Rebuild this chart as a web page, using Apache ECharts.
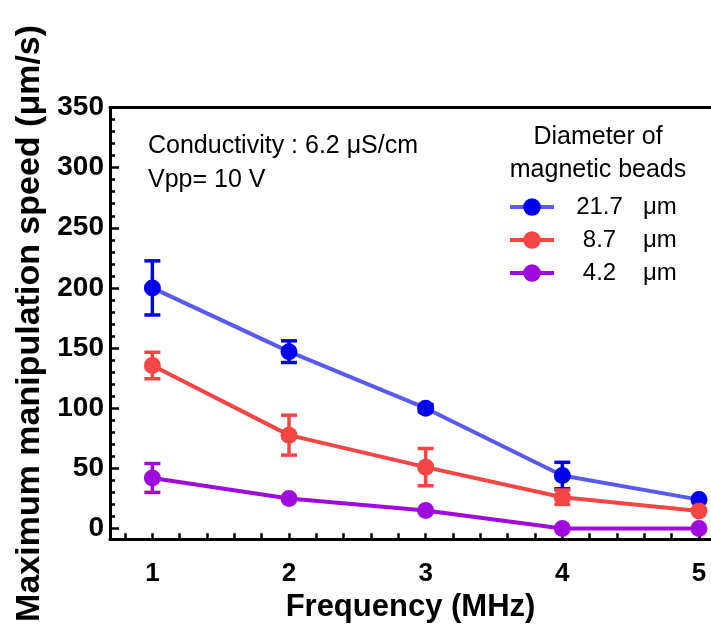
<!DOCTYPE html>
<html>
<head>
<meta charset="utf-8">
<script src="https://cdn.jsdelivr.net/npm/echarts@6/dist/echarts.min.js"></script>
<style>html,body{margin:0;padding:0;background:#fff}#c{width:711px;height:635px}</style>
</head>
<body>
<div id="c"></div>
<script>
// ---- data ----
const freqs = [1, 2, 3, 4, 5];
const seriesNames = ['21.7 μm', '8.7 μm', '4.2 μm'];
const legendNumbers = ['21.7', '8.7', '4.2'];
const speed217 = [200, 147, 100, 44, 24];
const err217 = [22.5, 9, 3, 11, 0];
const speed87 = [135.5, 77.6, 51, 26, 14.5];
const err87 = [11, 16.6, 15.5, 6, 0];
const speed42 = [42, 25, 15, 0, 0];
const err42 = [12, 0, 0, 0, 0];
const yMajorTicks = [0, 50, 100, 150, 200, 250, 300, 350];
const yMinorTicks = [0,10,20,30,40,50,60,70,80,90,100,110,120,130,140,150,160,170,180,190,200,210,220,230,240,250,260,270,280,290,300,310,320,330,340,350];
const xMajorTicks = [1, 2, 3, 4, 5];
const xMinorTicks = [0.8,1,1.2,1.4,1.6,1.8,2,2.2,2.4,2.6,2.8,3,3.2,3.4,3.6,3.8,4,4.2,4.4,4.6,4.8,5];
const annotationLines = ['Conductivity : 6.2 μS/cm', 'Vpp= 10 V'];
const legendTitle = 'Diameter of\nmagnetic beads';

// ---- styles ----
const FF = "'Liberation Sans', Arial, sans-serif";
const markerColors = ['#0000F0', '#F54545', '#A00ADC'];
const lineColors = ['#5A5AF2', '#F54545', '#A00ADC'];
const speeds = [speed217, speed87, speed42];
const errs = [err217, err87, err42];

const chart = echarts.init(document.getElementById('c'), null, {renderer: 'canvas'});

function errData(v, e) {
  return freqs.map((f, i) => [f, v[i] - e[i], v[i] + e[i]]).filter(d => d[2] > d[1]);
}
function errSeries(idx) {
  const col = markerColors[idx];
  return {
    type: 'custom',
    xAxisIndex: 0, yAxisIndex: 0,
    z: 3,
    data: errData(speeds[idx], errs[idx]),
    renderItem: function (params, api) {
      const x = api.value(0), lo = api.value(1), hi = api.value(2);
      const pt = api.coord([x, hi]), pb = api.coord([x, lo]);
      const hw = 8;
      const st = {stroke: col, lineWidth: 3.5};
      return {type: 'group', children: [
        {type: 'line', shape: {x1: pt[0], y1: pt[1], x2: pb[0], y2: pb[1]}, style: st},
        {type: 'line', shape: {x1: pt[0] - hw, y1: pt[1], x2: pt[0] + hw, y2: pt[1]}, style: st},
        {type: 'line', shape: {x1: pb[0] - hw, y1: pb[1], x2: pb[0] + hw, y2: pb[1]}, style: st}
      ]};
    }
  };
}
function lineSeries(idx) {
  return {
    type: 'line',
    name: seriesNames[idx],
    xAxisIndex: 0, yAxisIndex: 0,
    z: 4,
    data: freqs.map((f, i) => [f, speeds[idx][i]]),
    symbol: 'circle',
    symbolSize: 17,
    lineStyle: {color: lineColors[idx], width: 4},
    itemStyle: {color: markerColors[idx]},
    emphasis: {disabled: true}
  };
}

const xMin = 0.69, xMax = 5.088, yMin = -9, yMax = 350;

const option = {
  animation: false,
  grid: {left: 110, right: 0, top: 107.5, bottom: 95.7},
  xAxis: [{
    type: 'value', min: xMin, max: xMax, position: 'bottom',
    axisLine: {onZero: false, lineStyle: {color: '#000', width: 3}},
    axisTick: {inside: true, length: 6, lineStyle: {color: '#000', width: 2.5}, customValues: xMinorTicks},
    axisLabel: {customValues: xMajorTicks, margin: 22, fontSize: 26, fontWeight: 'bold', color: '#000', fontFamily: FF,
      formatter: v => String(Math.round(v))},
    splitLine: {show: false},
    name: 'Frequency (MHz)', nameLocation: 'middle', nameGap: 51,
    nameTextStyle: {fontSize: 31, fontWeight: 'bold', color: '#000', fontFamily: FF}
  }, {
    type: 'value', min: xMin, max: xMax, position: 'top',
    axisLine: {onZero: false, lineStyle: {color: '#000', width: 3}},
    axisTick: {show: false}, axisLabel: {show: false}, splitLine: {show: false}
  }],
  yAxis: [{
    type: 'value', min: yMin, max: yMax, position: 'left',
    axisLine: {onZero: false, lineStyle: {color: '#000', width: 3}},
    axisTick: {inside: true, length: 9, lineStyle: {color: '#000', width: 2.5}, customValues: yMajorTicks},
    axisLabel: {customValues: yMajorTicks, margin: 6, fontSize: 28, fontWeight: 'bold', color: '#000', fontFamily: FF},
    splitLine: {show: false},
    name: 'Maximum manipulation speed (μm/s)', nameLocation: 'middle', nameGap: 63, nameRotate: 90,
    nameTextStyle: {fontSize: 34, fontWeight: 'bold', color: '#000', fontFamily: FF}
  }, {
    type: 'value', min: yMin, max: yMax, position: 'left',
    axisLine: {show: false, onZero: false},
    axisTick: {show: true, inside: true, length: 5, lineStyle: {color: '#000', width: 2.5}, customValues: yMinorTicks},
    axisLabel: {show: false}, splitLine: {show: false}
  }],
  legend: {
    data: seriesNames,
    orient: 'vertical',
    left: 508, top: 194.5,
    padding: 0,
    itemWidth: 44, itemHeight: 22,
    itemGap: 8,
    selectedMode: false,
    lineStyle: {width: 4},
    formatter: function (name) {
      const i = seriesNames.indexOf(name);
      return '{n|' + legendNumbers[i] + '}{u|μm}';
    },
    textStyle: {
      color: '#000', fontFamily: FF, fontSize: 24, lineHeight: 25,
      rich: {
        n: {width: 81, align: 'right', fontSize: 24, fontFamily: FF, color: '#000', lineHeight: 25},
        u: {padding: [0, 0, 0, 3], fontSize: 24, fontFamily: FF, color: '#000', lineHeight: 25}
      }
    }
  },
  graphic: [
    {type: 'text', x: 148, y: 146, style: {text: annotationLines[0], font: '25px ' + FF, fill: '#000', verticalAlign: 'middle'}},
    {type: 'text', x: 148, y: 180, style: {text: annotationLines[1], font: '25px ' + FF, fill: '#000', verticalAlign: 'middle'}},
    {type: 'text', x: 598, y: 121, style: {text: legendTitle, font: '25px ' + FF, fill: '#000', align: 'center', verticalAlign: 'top', lineHeight: 33}}
  ],
  series: [errSeries(0), errSeries(1), errSeries(2), lineSeries(0), lineSeries(1), lineSeries(2)]
};
chart.setOption(option);
</script>
</body>
</html>
